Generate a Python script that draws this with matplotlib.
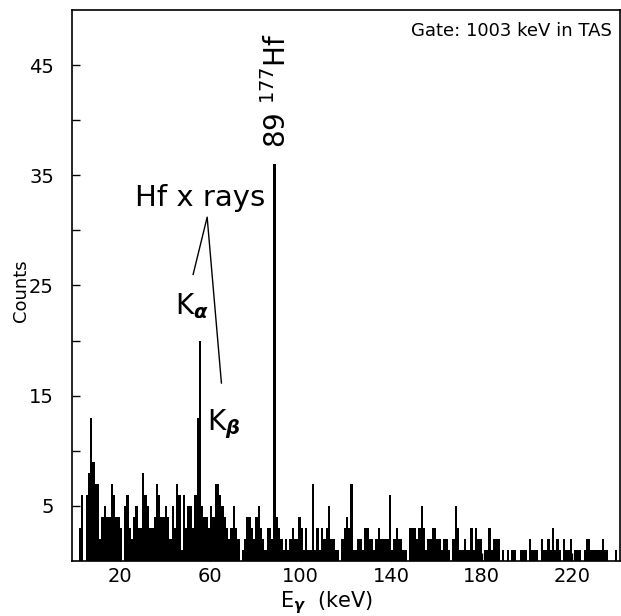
import numpy as np
import matplotlib
matplotlib.use('Agg')
import matplotlib.pyplot as plt

# gamma spectrum in coincidence with the 1003 keV gate, 1 keV channels
first_channel = 2
counts = [
    3, 6, 0, 6, 8, 13, 9, 7, 7, 2,          # 2-11
    4, 5, 4, 4, 7, 6, 4, 4, 3, 0,           # 12-21
    5, 6, 3, 2, 4, 5, 3, 3, 8, 6,           # 22-31
    5, 3, 3, 4, 7, 6, 4, 4, 5, 4,           # 32-41
    2, 5, 3, 7, 6, 1, 6, 3, 5, 5,           # 42-51
    3, 6, 13, 20, 5, 4, 4, 3, 5, 4,         # 52-61
    7, 7, 6, 5, 4, 3, 2, 3, 5, 3,           # 62-71
    2, 0, 1, 2, 4, 4, 3, 2, 4, 5,           # 72-81
    3, 2, 1, 3, 3, 2, 36, 4, 3, 2,          # 82-91
    1, 2, 1, 2, 3, 2, 2, 4, 3, 1,           # 92-101
    3, 1, 1, 7, 1, 3, 1, 3, 2, 3,           # 102-111
    5, 2, 2, 1, 1, 0, 2, 3, 4, 3,           # 112-121
    7, 1, 1, 2, 2, 1, 3, 3, 2, 2,           # 122-131
    1, 2, 3, 2, 2, 2, 2, 6, 1, 2,           # 132-141
    3, 2, 2, 1, 1, 0, 3, 3, 3, 2,           # 142-151
    3, 5, 3, 1, 2, 2, 3, 3, 2, 2,           # 152-161
    1, 2, 2, 1, 0, 2, 5, 3, 1, 1,           # 162-171
    2, 1, 1, 3, 1, 3, 2, 2, 0, 1,           # 172-181
    1, 3, 1, 2, 2, 2, 0, 1, 0, 1,           # 182-191
    0, 1, 1, 0, 0, 1, 1, 1, 0, 2,           # 192-201
    1, 1, 1, 0, 2, 1, 1, 2, 1, 3,           # 202-211
    1, 2, 1, 0, 2, 1, 1, 2, 0, 1,           # 212-221
    1, 1, 0, 1, 2, 2, 1, 1, 1, 1,           # 222-231
    1, 2, 1, 1, 0, 0, 0, 1, 0,              # 232-240
]
edges = np.arange(first_channel, first_channel + len(counts) + 1)

y_major = [5, 15, 25, 35, 45]
y_minor = [10, 20, 30, 40]
x_labels = [20, 60, 100, 140, 180, 220]

fig = plt.figure(figsize=(6.21, 6.16), dpi=100)
ax = fig.add_axes([0.116, 0.0893, 0.882, 0.8945])

ax.stairs(counts, edges, fill=True, color='black', linewidth=0.8)

ax.set_xlim(-1, 241)
ax.set_ylim(0, 50)

ax.set_yticks(y_major + y_minor)
ax.set_yticklabels([str(v) for v in y_major] + [''] * len(y_minor))
ax.set_xticks(x_labels)
ax.tick_params(direction='in', length=6, width=1, labelsize=14)
ax.tick_params(axis='y', pad=13)
ax.tick_params(axis='x', pad=4)
for s in ax.spines.values():
    s.set_linewidth(1.2)

ax.set_ylabel('Counts', fontsize=13)
ax.yaxis.set_label_coords(-0.077, 0.49)
ax.set_xlabel(r'E$_{\boldsymbol{\gamma}}$  (keV)', fontsize=15)
ax.xaxis.set_label_coords(0.465, -0.052)

# labels
ax.text(0.985, 0.978, 'Gate: 1003 keV in TAS', transform=ax.transAxes,
        ha='right', va='top', fontsize=13)
ax.text(55.4, 32.2, 'Hf x rays', ha='center', va='baseline', fontsize=21)
ax.plot([52.5, 58.7, 65.0], [26.0, 31.2, 16.15], color='black', lw=1)
ax.text(44.4, 22.4, r'K$_{\boldsymbol{\alpha}}$', ha='left', va='baseline', fontsize=20)
ax.text(58.5, 11.9, r'K$_{\boldsymbol{\beta}}$', ha='left', va='baseline', fontsize=20)
ax.text(89.4, 37.5, r'89 $^{177}$Hf', rotation=90, ha='center', va='bottom', fontsize=20)

fig.savefig('out.png', dpi=100)
